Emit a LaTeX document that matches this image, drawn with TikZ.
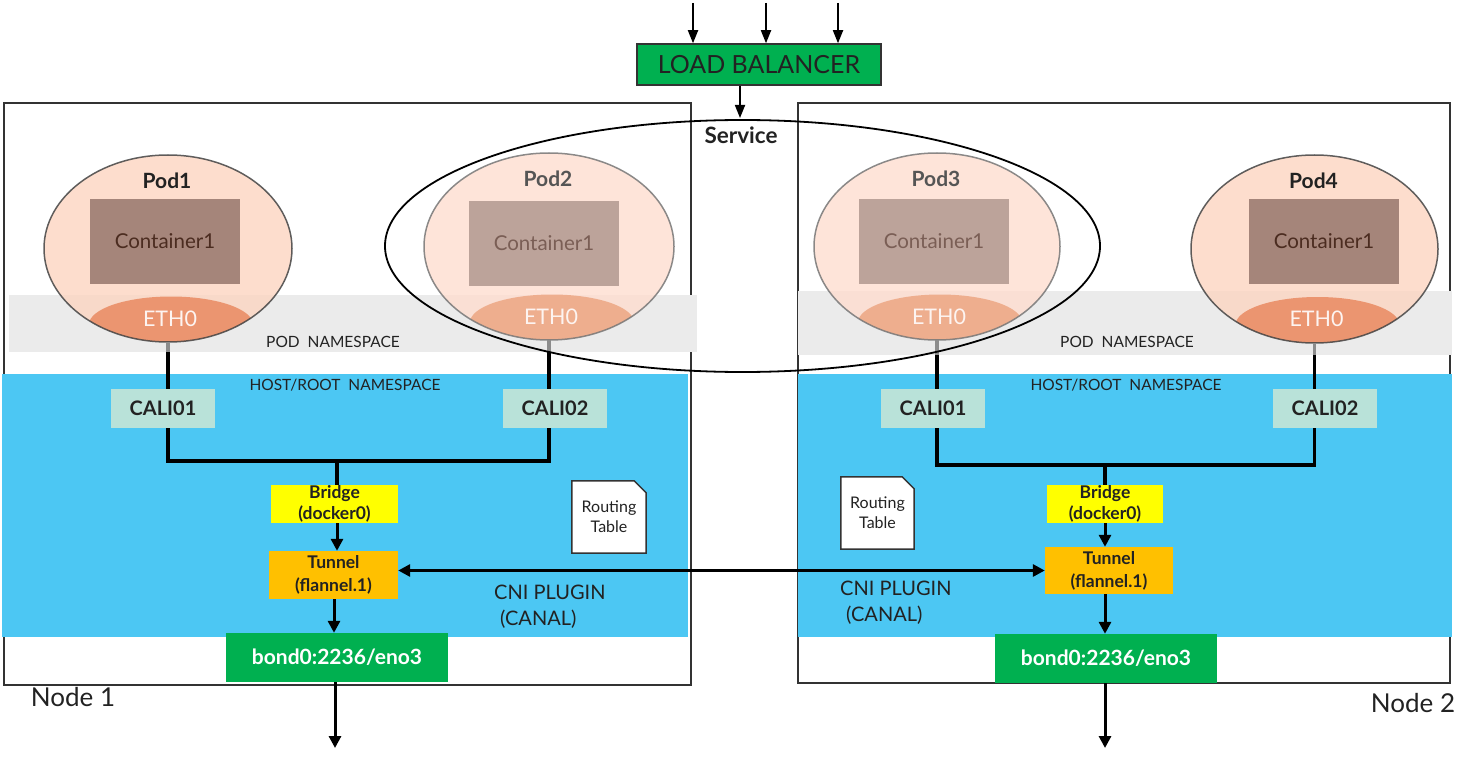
\documentclass[tikz,border=0pt]{standalone}
\usepackage{fontspec}
\setmainfont{Lato}
\usetikzlibrary{shapes.geometric,arrows.meta}
\definecolor{lbgreen}{HTML}{00B050}
\definecolor{bondgreen}{HTML}{00B050}
\definecolor{hostblue}{HTML}{4CC7F3}
\definecolor{bandgray}{HTML}{EBEBEB}
\definecolor{califill}{HTML}{B9E2D9}
\definecolor{bridgeyellow}{HTML}{FFFF00}
\definecolor{tunnelorange}{HTML}{FFC000}
\definecolor{podfillA}{HTML}{FCD5C1}
\definecolor{podfillB}{HTML}{FEDDCF}
\definecolor{contA}{HTML}{A5857A}
\definecolor{contB}{HTML}{BCA39A}
\definecolor{conttextA}{HTML}{4B2C20}
\definecolor{conttextB}{HTML}{7A5E55}
\definecolor{ethA}{HTML}{EB9570}
\definecolor{ethB}{HTML}{EEAE8E}
\definecolor{podlineA}{HTML}{444444}
\definecolor{podlineB}{HTML}{777777}
\definecolor{podtextA}{HTML}{222222}
\definecolor{podtextB}{HTML}{555555}
\definecolor{textdark}{HTML}{222222}
\definecolor{boxline}{HTML}{333333}
\begin{document}
\begin{tikzpicture}[x=1pt,y=-1pt,
  box/.style={rectangle, inner sep=0pt, align=center},
  lbbox/.style={box, draw=boxline, line width=1.5pt, fill=lbgreen, minimum width=244pt, minimum height=41pt, font=\fontsize{25}{30}\selectfont, text=textdark},
  nodebox/.style={box, draw=boxline, line width=1.5pt},
  calibox/.style={box, fill=califill, minimum width=104pt, minimum height=39pt, font=\bfseries\fontsize{20}{24}\selectfont, text=textdark},
  bridgebox/.style={box, fill=bridgeyellow, minimum height=38pt, font=\bfseries\fontsize{17.5}{21}\selectfont, text=textdark},
  tunnelbox/.style={box, fill=tunnelorange, minimum height=48pt, font=\bfseries\fontsize{17.5}{23}\selectfont, text=textdark},
  bondbox/.style={box, fill=bondgreen, minimum width=222pt, minimum height=49pt, font=\bfseries\fontsize{21}{25}\selectfont, text=white},
  contbox/.style={box, minimum width=150pt, minimum height=85pt, font=\fontsize{20.5}{24}\selectfont},
  smalllabel/.style={font=\fontsize{15.5}{18}\selectfont, text=textdark, inner sep=0pt},
  cnilabel/.style={font=\fontsize{20}{26}\selectfont, text=textdark, inner sep=0pt, align=left, anchor=north west},
  nodelabel/.style={font=\fontsize{26}{30}\selectfont, text=textdark, inner sep=0pt},
  rtbox/.style={box, minimum width=74pt, minimum height=72pt, font=\fontsize{16}{20}\selectfont, text=textdark},
  conn/.style={line width=3.5pt, black},
  fadedconn/.style={line width=3.5pt, black!45},
  arr/.style={line width=3pt, black, -{Triangle[length=12pt,width=12pt]}},
  dblarr/.style={line width=3pt, black, {Triangle[length=12pt,width=12pt]}-{Triangle[length=12pt,width=12pt]}},
  thinarr/.style={line width=1.8pt, black, -{Triangle[length=13pt,width=10pt]}}
]
\useasboundingbox (0,0) rectangle (1477,762);

% node boxes
\node[nodebox, minimum width=687pt, minimum height=582pt] (n1) at (347.5,394) {};
\node[nodebox, minimum width=652pt, minimum height=580pt] (n2) at (1124,393) {};

% pod namespace bands
\fill[bandgray] (9,295) rectangle (697,352);
\fill[bandgray] (798,291) rectangle (1452,355);

% pods
\foreach \n/\cx/\cy/\rx/\ry/\v/\ccx/\ccy in {1/168/248.5/124/93.5/A/165/241.5,2/549/246.5/125/93.5/B/544/243.5,3/937/246.5/123/93.5/B/934/241.5,4/1314.5/249/123.5/94/A/1324/241.5}{
  \node[ellipse, inner sep=0pt, fill=podfill\v, fill opacity=0.8, minimum width=2*\rx, minimum height=2*\ry] (pod\n) at (\cx,\cy) {};
  \begin{scope}
    \clip (\cx,\cy) ellipse [x radius=\rx, y radius=\ry];
    \fill[eth\v] (\cx+3,\cy+76) ellipse [x radius=82, y radius=28];
  \end{scope}
  \node[contbox, fill=cont\v, text=conttext\v] (cont\n) at (\ccx,\ccy) {Container1};
  \node[font=\bfseries\fontsize{21}{24}\selectfont, text=podtext\v, inner sep=0pt] (podlab\n) at (\cx-1,\cy-68) {Pod\n};
  \node[font=\fontsize{21.5}{24}\selectfont, text=white!90!ethA, inner sep=0pt] (eth\n) at (\cx+2,\cy+70) {ETH0};
  \draw[podline\v, line width=1.5pt, opacity=0.85] (\cx,\cy) ellipse [x radius=\rx, y radius=\ry];
}

\node[smalllabel] (podns1) at (333,342) {POD\ \ NAMESPACE};
\node[smalllabel] (podns2) at (1127,342) {POD\ \ NAMESPACE};

% host namespace
\fill[hostblue] (2,374) rectangle (688,637);
\fill[hostblue] (798,374) rectangle (1452,637);
\node[smalllabel] (hostns1) at (345,385) {HOST/ROOT\ \ NAMESPACE};
\node[smalllabel] (hostns2) at (1126,385) {HOST/ROOT\ \ NAMESPACE};

% CALI boxes
\node[calibox] (cali11) at (163,408.5) {CALI01};
\node[calibox] (cali12) at (555,408.5) {CALI02};
\node[calibox] (cali21) at (933,408.5) {CALI01};
\node[calibox] (cali22) at (1325,408.5) {CALI02};

% pod to cali connectors (faded inside the pod namespace band)
\coordinate (b1) at (0,352);
\coordinate (b2) at (0,355);
\draw[fadedconn] (pod1.south) -- (pod1.south |- b1);
\draw[fadedconn] (pod2.south) -- (pod2.south |- b1);
\draw[fadedconn] (pod3.south) -- (pod3.south |- b2);
\draw[fadedconn] (pod4.south) -- (pod4.south |- b2);
\draw[conn] (pod1.south |- b1) -- (pod1.south |- cali11.north);
\draw[conn] (pod2.south |- b1) -- (pod2.south |- cali12.north);
\draw[conn] (pod3.south |- b2) -- (pod3.south |- cali21.north);
\draw[conn] (pod4.south |- b2) -- (pod4.south |- cali22.north);

% bridges, tunnels, bonds
\node[bridgebox, minimum width=127pt] (br1) at (334.5,504) {Bridge\\(docker0)};
\node[bridgebox, minimum width=116pt] (br2) at (1105,504) {Bridge\\(docker0)};
\node[tunnelbox, minimum width=129pt] (tu1) at (333.5,575) {Tunnel\\(flannel.1)};
\node[tunnelbox, minimum width=128pt, minimum height=47pt] (tu2) at (1109,570.5) {Tunnel\\(flannel.1)};
\node[bondbox] (bond1) at (337,657.5) {bond0:2236/eno3};
\node[bondbox] (bond2) at (1106,658.5) {bond0:2236/eno3};

% cali joins
\coordinate (j1) at (337,461);
\coordinate (j2) at (1105,465);
\draw[conn] (pod1.south |- cali11.south) |- (j1) -| (pod2.south |- cali12.south);
\draw[conn] (pod3.south |- cali21.south) |- (j2) -| (pod4.south |- cali22.south);
\draw[conn] (j1) -- (j1 |- br1.north);
\draw[conn] (j2) -- (j2 |- br2.north);

% arrows bridge -> tunnel -> bond
\draw[arr] (br1.south -| j1) -- (tu1.north -| j1);
\draw[arr] (br2.south -| j2) -- (tu2.north -| j2);
\draw[arr] (tu1.south -| 334,0) -- (bond1.north -| 334,0);
\draw[arr] (tu2.south -| 1105,0) -- (bond2.north -| 1105,0);
\draw[dblarr] (tu1.east |- tu2.west) -- (tu2.west);

% outgoing arrows
\coordinate (out1) at (335,748);
\coordinate (out2) at (1105,748);
\draw[arr] (bond1.south -| out1) -- (out1);
\draw[arr] (bond2.south -| out2) -- (out2);

% routing tables
\node[rtbox] (rt1) at (609,517) {};
\filldraw[fill=white, draw=boxline, line width=1.5pt] (rt1.north west) -- ([xshift=-12pt]rt1.north east) -- ([yshift=-12pt]rt1.north east) -- (rt1.south east) -- (rt1.south west) -- cycle;
\node[rtbox] at (rt1) {Routing\\Table};
\node[rtbox, minimum width=73pt] (rt2) at (877.5,513) {};
\filldraw[fill=white, draw=boxline, line width=1.5pt] (rt2.north west) -- ([xshift=-12pt]rt2.north east) -- ([yshift=-12pt]rt2.north east) -- (rt2.south east) -- (rt2.south west) -- cycle;
\node[rtbox, minimum width=73pt] at (rt2) {Routing\\Table};

% CNI labels
\node[cnilabel] (cni1) at (494,585) {CNI PLUGIN\\\hspace{6pt}(CANAL)};
\node[cnilabel] (cni2) at (840,581) {CNI PLUGIN\\\hspace{6pt}(CANAL)};

% node labels
\node[nodelabel] (nl1) at (73,697) {Node 1};
\node[nodelabel] (nl2) at (1413,703) {Node 2};

% service ellipse
\node[ellipse, inner sep=0pt, minimum width=715pt, minimum height=252pt, draw=black, line width=1.8pt] (svc) at (742.5,246) {};
\node[font=\bfseries\fontsize{22.5}{26}\selectfont, text=textdark, inner sep=0pt] (svclab) at (741,135) {Service};

% load balancer
\node[lbbox] (lb) at (759,64.5) {LOAD BALANCER};
\coordinate (in1) at (693,3);
\coordinate (in2) at (766,3);
\coordinate (in3) at (838,3);
\draw[thinarr] (in1) -- (in1 |- lb.north);
\draw[thinarr] (in2) -- (in2 |- lb.north);
\draw[thinarr] (in3) -- (in3 |- lb.north);
\coordinate (svtop) at (740,118);
\draw[thinarr] (lb.south -| svtop) -- (svtop);
\end{tikzpicture}
\end{document}
